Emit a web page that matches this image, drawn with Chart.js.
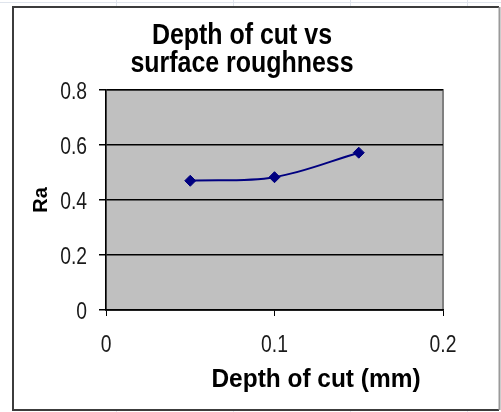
<!DOCTYPE html>
<html>
<head>
<meta charset="utf-8">
<title>Depth of cut vs surface roughness</title>
<script src="https://cdn.jsdelivr.net/npm/chart.js@4.4.1/dist/chart.umd.min.js"></script>
<style>
    html, body { margin: 0; padding: 0; background: #ffffff; }
    #wrap {
        position: relative;
        width: 501px;
        height: 412px;
        overflow: hidden;
        /* spreadsheet cells behind the chart */
        background:
            linear-gradient(#dfe4ec, #dfe4ec) 0 2px / 501px 1px no-repeat,
            repeating-linear-gradient(to right, transparent 0 116px, #dfe4ec 116px 117px, transparent 117px 102px);
    }
    #wrap canvas { position: absolute; left: 0; top: 0; }
</style>
</head>
<body>
<div id="wrap"><canvas id="chart" width="501" height="412"></canvas></div>
<script>
const depthOfCut = [0.05, 0.1, 0.15];
const surfaceRoughness = [0.47, 0.483, 0.572];
const xTickValues = [0, 0.1, 0.2];
const yTickValues = [0, 0.2, 0.4, 0.6, 0.8];

const chartTitle = ["Depth of cut vs", "surface roughness"];
const xTitle = "Depth of cut (mm)";
const yTitle = "Ra";

const mainFont = "'Liberation Sans', Arial, sans-serif";

// draws text squeezed sideways, like the scaled Excel fonts
function squeezed(ctx, text, x, y, font, sx, align) {
    ctx.save();
    ctx.font = font;
    ctx.textAlign = align;
    ctx.translate(x, y);
    ctx.scale(sx, 1);
    ctx.fillText(text, 0, 0);
    ctx.restore();
}

// Excel style frame, grey plot area and the text that sits outside the axes
const excelFrame = {
    id: "excelFrame",
    beforeDraw(chart) {
        const { ctx, chartArea: a } = chart;
        ctx.save();
        ctx.fillStyle = "#ffffff";
        ctx.fillRect(12, 6, 488, 404);
        ctx.strokeStyle = "#3c3c3c";
        ctx.lineWidth = 2;
        ctx.beginPath();
        ctx.moveTo(499, 7);
        ctx.lineTo(13, 7);
        ctx.lineTo(13, 410);
        ctx.lineTo(499, 410);
        ctx.stroke();
        ctx.strokeStyle = "#9a9a9a";
        ctx.beginPath();
        ctx.moveTo(499.5, 7);
        ctx.lineTo(499.5, 410);
        ctx.stroke();

        ctx.fillStyle = "#c0c0c0";
        ctx.fillRect(a.left, a.top, a.right - a.left, a.bottom - a.top);
        ctx.strokeStyle = "#808080";
        ctx.lineWidth = 2;
        ctx.strokeRect(a.left, a.top, a.right - a.left, a.bottom - a.top);
        ctx.restore();
    },
    afterDraw(chart) {
        const { ctx, scales } = chart;
        ctx.save();
        ctx.fillStyle = "#000000";
        ctx.textBaseline = "alphabetic";
        squeezed(ctx, chartTitle[0], 242, 44, "bold 29px " + mainFont, 0.86, "center");
        squeezed(ctx, chartTitle[1], 242, 72, "bold 29px " + mainFont, 0.86, "center");
        squeezed(ctx, xTitle, 316, 387, "bold 26px " + mainFont, 0.94, "center");

        // tick labels, placed through the scales
        ctx.fillStyle = "#1a1a1a";
        const tickFont = "23px " + mainFont;
        yTickValues.forEach(v => {
            squeezed(ctx, String(v), 87, scales.y.getPixelForValue(v) + 8.5, tickFont, 0.84, "right");
        });
        xTickValues.forEach(v => {
            squeezed(ctx, String(v), scales.x.getPixelForValue(v), 352, tickFont, 0.84, "center");
        });
        ctx.restore();
    }
};

new Chart(document.getElementById("chart"), {
    type: "scatter",
    data: {
        datasets: [{
            label: "Ra",
            data: depthOfCut.map((x, i) => ({ x, y: surfaceRoughness[i] })),
            showLine: true,
            tension: 0.35,
            borderColor: "#000080",
            borderWidth: 2,
            pointStyle: "rectRot",
            pointRadius: 5.5,
            pointBackgroundColor: "#000080",
            pointBorderColor: "#000080",
            pointBorderWidth: 1
        }]
    },
    options: {
        responsive: false,
        animation: false,
        devicePixelRatio: 1,
        layout: { padding: { left: 14, right: 58, top: 90, bottom: 4 } },
        plugins: {
            legend: { display: false },
            tooltip: { enabled: false }
        },
        scales: {
            x: {
                type: "linear",
                min: 0,
                max: 0.2,
                afterFit: s => { s.height = 98; },
                afterBuildTicks: s => { s.ticks = xTickValues.map(value => ({ value })); },
                grid: { drawOnChartArea: false, drawTicks: true, tickLength: 6, tickColor: "#000000", tickWidth: 1 },
                border: { color: "#000000", width: 1.5 },
                ticks: { display: false }
            },
            y: {
                min: 0,
                max: 0.8,
                afterFit: s => { s.width = 92; },
                afterBuildTicks: s => { s.ticks = yTickValues.map(value => ({ value })); },
                grid: {
                    color: "#000000",
                    lineWidth: 1.5,
                    tickLength: 7,
                    tickColor: "#000000"
                },
                border: { color: "#000000", width: 1.5 },
                title: {
                    display: true,
                    text: yTitle,
                    color: "#000000",
                    padding: { top: 15, bottom: 0 },
                    font: { family: mainFont, size: 20, weight: "bold" }
                },
                ticks: { display: false }
            }
        }
    },
    plugins: [excelFrame]
});
</script>
</body>
</html>
